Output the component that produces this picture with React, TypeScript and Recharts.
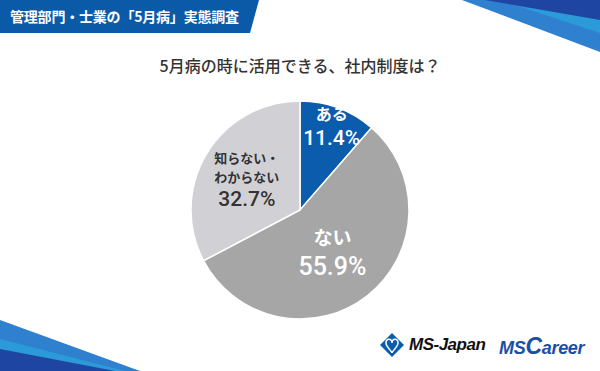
import React from 'react';
import {PieChart, Pie, Cell} from 'recharts';

const categories = ['ある', 'ない', '知らない・わからない'];
const shares = [11.4, 55.9, 32.7];
const labelLines = [['ある'], ['ない'], ['知らない・', 'わからない']];

const sliceColors = ['#0b5cad', '#a6a6a6', '#d1d1d5'];
const labelColors = ['#ffffff', '#ffffff', '#333333'];
// where each label sits, as a fraction of the radius, and font sizes
const labelRadius = [0.83, 0.48, 0.57];
const nameSize = [16, 19, 13];
const valueSize = [21, 25, 21];

const FONT = '"Noto Sans CJK JP", "Noto Sans", sans-serif';
const NUM_FONT = 'Roboto, "Noto Sans", sans-serif';
const RADIAN = Math.PI / 180;

const chartData = categories.map((name, i) => ({name, value: shares[i]}));

const SliceLabel = (props: any) => {
    const {cx, cy, midAngle, outerRadius, index, value} = props;
    const r = outerRadius * labelRadius[index];
    const x = cx + r * Math.cos(-midAngle * RADIAN);
    const y = cy + r * Math.sin(-midAngle * RADIAN);
    const rows = [
        ...labelLines[index].map(t => ({t, size: nameSize[index], w: 700, f: FONT, h: nameSize[index] * 1.45})),
        {t: value.toFixed(1) + '%', size: valueSize[index], w: 500, f: NUM_FONT, h: valueSize[index] * 1.18},
    ];
    // stack rows around the label point
    const gaps: number[] = [0];
    for (let k = 1; k < rows.length; k++) {
        gaps.push((rows[k - 1].h + rows[k].h) / 2 + 1);
    }
    const shift = gaps.reduce((a, b) => a + b, 0) / 2;
    return (
        <text x={x} y={y} textAnchor="middle" dominantBaseline="central" fill={labelColors[index]}>
            {rows.map((row, k) => (
                <tspan key={k} x={x} dy={k === 0 ? -shift : gaps[k]} fontSize={row.size} fontWeight={row.w} fontFamily={row.f}>
                    {row.t}
                </tspan>
            ))}
        </text>
    );
};

const Decor = () => (
    <svg width={600} height={371} style={{position: 'absolute', left: 0, top: 0}}>
        <polygon points="0,0 259,0 250,33 0,33" fill="#0b5aa8"/>
        <polygon points="462,0 600,0 600,52" fill="#2f80cf"/>
        <polygon points="500,0 600,0 600,33" fill="#2b9ad9"/>
        <polygon points="485,0 600,0 600,20" fill="#1f45a2"/>
        <polygon points="0,320 0,371 140,371" fill="#2f80cf"/>
        <polygon points="0,339 0,371 125,371" fill="#2b9ad9"/>
        <polygon points="0,349 0,371 115,371" fill="#1f45a2"/>
        <g transform="translate(392,345)">
            <polygon points="0,-12 12,0 0,12 -12,0" fill="#0b5cad"/>
            <path d="M-6,-2 C-6,-7 0,-7 0,-2 C0,-7 6,-7 6,-2 C6,2 0,6 0,8 C0,6 -6,2 -6,-2 Z" fill="none" stroke="#fff" strokeWidth={1.5}/>
        </g>
    </svg>
);

const App = () => {
    return (
        <div style={{position: 'absolute', left: 0, top: 0, width: 600, height: 371, background: '#fff', overflow: 'hidden'}}>
            <Decor/>
            <div style={{position: 'absolute', left: 10, top: 6, fontFamily: FONT, fontSize: 14, fontWeight: 700, color: '#fff', letterSpacing: -0.2}}>
                管理部門・士業の「5月病」実態調査
            </div>
            <div style={{position: 'absolute', left: 0, top: 53, width: 600, textAlign: 'center', fontFamily: FONT, fontSize: 16, fontWeight: 500, color: '#333'}}>
                5月病の時に活用できる、社内制度は？
            </div>
            <div style={{position: 'absolute', left: 0, top: 0}}>
                <PieChart width={600} height={371} margin={{top: 0, right: 0, bottom: 0, left: 0}}>
                    <Pie data={chartData} dataKey="value" nameKey="name" cx={300} cy={210} outerRadius={109}
                         startAngle={90} endAngle={-270} stroke="#ffffff" strokeWidth={1.5}
                         label={SliceLabel} labelLine={false} isAnimationActive={false}>
                        {chartData.map((d, i) => <Cell key={d.name} fill={sliceColors[i]}/>)}
                    </Pie>
                </PieChart>
            </div>
            <div style={{position: 'absolute', left: 409, top: 335, fontFamily: '"Liberation Sans", Arial, sans-serif', fontSize: 17, fontWeight: 700, fontStyle: 'italic', color: '#111', letterSpacing: -0.5}}>
                MS-Japan
            </div>
            <div style={{position: 'absolute', left: 499, top: 333, fontFamily: '"Liberation Sans", Arial, sans-serif', fontWeight: 700, fontStyle: 'italic', color: '#1a4fa8', letterSpacing: -0.3}}>
                <span style={{fontSize: 18}}>MS</span><span style={{fontSize: 23}}>C</span><span style={{fontSize: 18}}>areer</span>
            </div>
        </div>
    );
};

export default App;
